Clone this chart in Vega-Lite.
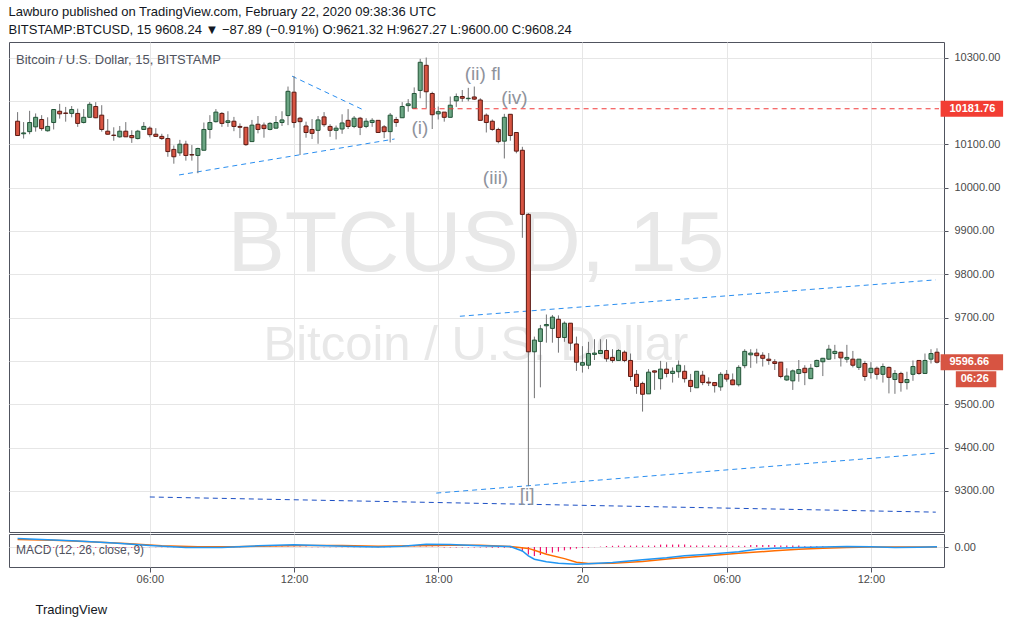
{
  "$schema": "https://vega.github.io/schema/vega-lite/v6.json",
  "background": "#ffffff",
  "padding": {"left": 8, "top": 5, "right": 0, "bottom": 0},
  "title": {
    "text": "Lawburo published on TradingView.com, February 22, 2020 09:38:36 UTC",
    "subtitle": "BITSTAMP:BTCUSD, 15 9608.24 ▼ −87.89 (−0.91%) O:9621.32 H:9627.27 L:9600.00 C:9608.24",
    "anchor": "start",
    "font": "Liberation Sans",
    "fontSize": 13,
    "fontWeight": "normal",
    "color": "#131722",
    "subtitleFont": "Liberation Sans",
    "subtitleFontSize": 13,
    "subtitleColor": "#131722",
    "subtitlePadding": 5,
    "offset": 5
  },
  "config": {
    "font": "Liberation Sans",
    "view": {"stroke": "#50535e", "strokeWidth": 1},
    "axis": {"labelFont": "Liberation Sans", "labelColor": "#4a4a4a", "labelFontSize": 11, "gridColor": "#e6e6e6", "tickColor": "#50535e", "domain": false}
  },
  "spacing": 0,
  "resolve": {"scale": {"y": "independent", "stroke": "independent", "fill": "independent", "color": "independent"}},
  "datasets": {
    "candles": [
      {"t":"2020-02-19T00:30:00Z","o":10153,"h":10174,"l":10119,"c":10120,"m":-4},
      {"t":"2020-02-19T00:45:00Z","o":10124,"h":10151,"l":10113,"c":10126,"m":-4},
      {"t":"2020-02-19T01:00:00Z","o":10129,"h":10177,"l":10123,"c":10150,"m":-4},
      {"t":"2020-02-19T01:15:00Z","o":10140,"h":10171,"l":10129,"c":10162,"m":-4},
      {"t":"2020-02-19T01:30:00Z","o":10157,"h":10167,"l":10131,"c":10136,"m":-4},
      {"t":"2020-02-19T01:45:00Z","o":10131,"h":10162,"l":10129,"c":10141,"m":-4},
      {"t":"2020-02-19T02:00:00Z","o":10150,"h":10181,"l":10134,"c":10180,"m":-4},
      {"t":"2020-02-19T02:15:00Z","o":10176,"h":10193,"l":10159,"c":10170,"m":-4},
      {"t":"2020-02-19T02:30:00Z","o":10172,"h":10186,"l":10152,"c":10171,"m":-4},
      {"t":"2020-02-19T02:45:00Z","o":10171,"h":10188,"l":10162,"c":10180,"m":-4},
      {"t":"2020-02-19T03:00:00Z","o":10171,"h":10182,"l":10140,"c":10148,"m":-4},
      {"t":"2020-02-19T03:15:00Z","o":10150,"h":10181,"l":10148,"c":10162,"m":-4},
      {"t":"2020-02-19T03:30:00Z","o":10162,"h":10197,"l":10162,"c":10192,"m":-4},
      {"t":"2020-02-19T03:45:00Z","o":10187,"h":10197,"l":10160,"c":10161,"m":-4},
      {"t":"2020-02-19T04:00:00Z","o":10167,"h":10190,"l":10129,"c":10134,"m":-4},
      {"t":"2020-02-19T04:15:00Z","o":10130,"h":10158,"l":10122,"c":10123,"m":-4},
      {"t":"2020-02-19T04:30:00Z","o":10121,"h":10139,"l":10108,"c":10120,"m":-4},
      {"t":"2020-02-19T04:45:00Z","o":10117,"h":10142,"l":10115,"c":10130,"m":-4},
      {"t":"2020-02-19T05:00:00Z","o":10130,"h":10151,"l":10117,"c":10117,"m":-4},
      {"t":"2020-02-19T05:15:00Z","o":10120,"h":10132,"l":10103,"c":10115,"m":-4},
      {"t":"2020-02-19T05:30:00Z","o":10113,"h":10133,"l":10111,"c":10130,"m":-4},
      {"t":"2020-02-19T05:45:00Z","o":10134,"h":10151,"l":10133,"c":10141,"m":-1},
      {"t":"2020-02-19T06:00:00Z","o":10137,"h":10141,"l":10116,"c":10122,"m":-1},
      {"t":"2020-02-19T06:15:00Z","o":10123,"h":10137,"l":10117,"c":10118,"m":-1},
      {"t":"2020-02-19T06:30:00Z","o":10118,"h":10124,"l":10110,"c":10113,"m":-1},
      {"t":"2020-02-19T06:45:00Z","o":10113,"h":10123,"l":10071,"c":10083,"m":-1},
      {"t":"2020-02-19T07:00:00Z","o":10088,"h":10097,"l":10055,"c":10071,"m":-1},
      {"t":"2020-02-19T07:15:00Z","o":10080,"h":10110,"l":10073,"c":10100,"m":-1},
      {"t":"2020-02-19T07:30:00Z","o":10100,"h":10108,"l":10062,"c":10074,"m":-1},
      {"t":"2020-02-19T07:45:00Z","o":10076,"h":10098,"l":10062,"c":10075,"m":-1},
      {"t":"2020-02-19T08:00:00Z","o":10074,"h":10092,"l":10033,"c":10090,"m":-1},
      {"t":"2020-02-19T08:15:00Z","o":10086,"h":10150,"l":10086,"c":10134,"m":-1},
      {"t":"2020-02-19T08:30:00Z","o":10134,"h":10167,"l":10113,"c":10150,"m":-1},
      {"t":"2020-02-19T08:45:00Z","o":10152,"h":10181,"l":10150,"c":10174,"m":-1},
      {"t":"2020-02-19T09:00:00Z","o":10171,"h":10174,"l":10140,"c":10148,"m":-1},
      {"t":"2020-02-19T09:15:00Z","o":10150,"h":10176,"l":10140,"c":10154,"m":-1},
      {"t":"2020-02-19T09:30:00Z","o":10153,"h":10163,"l":10130,"c":10141,"m":-1},
      {"t":"2020-02-19T09:45:00Z","o":10141,"h":10148,"l":10114,"c":10139,"m":-1},
      {"t":"2020-02-19T10:00:00Z","o":10139,"h":10139,"l":10096,"c":10099,"m":2},
      {"t":"2020-02-19T10:15:00Z","o":10106,"h":10156,"l":10106,"c":10144,"m":2},
      {"t":"2020-02-19T10:30:00Z","o":10146,"h":10165,"l":10125,"c":10134,"m":2},
      {"t":"2020-02-19T10:45:00Z","o":10144,"h":10150,"l":10115,"c":10136,"m":2},
      {"t":"2020-02-19T11:00:00Z","o":10134,"h":10151,"l":10132,"c":10148,"m":2},
      {"t":"2020-02-19T11:15:00Z","o":10137,"h":10165,"l":10136,"c":10150,"m":2},
      {"t":"2020-02-19T11:30:00Z","o":10150,"h":10176,"l":10142,"c":10156,"m":2},
      {"t":"2020-02-19T11:45:00Z","o":10166,"h":10233,"l":10144,"c":10222,"m":2},
      {"t":"2020-02-19T12:00:00Z","o":10220,"h":10257,"l":10138,"c":10150,"m":2},
      {"t":"2020-02-19T12:15:00Z","o":10160,"h":10163,"l":10075,"c":10152,"m":2},
      {"t":"2020-02-19T12:30:00Z","o":10142,"h":10152,"l":10115,"c":10127,"m":2},
      {"t":"2020-02-19T12:45:00Z","o":10134,"h":10158,"l":10112,"c":10125,"m":-1},
      {"t":"2020-02-19T13:00:00Z","o":10132,"h":10165,"l":10101,"c":10156,"m":-1},
      {"t":"2020-02-19T13:15:00Z","o":10163,"h":10174,"l":10140,"c":10145,"m":-1},
      {"t":"2020-02-19T13:30:00Z","o":10141,"h":10146,"l":10117,"c":10132,"m":-1},
      {"t":"2020-02-19T13:45:00Z","o":10132,"h":10143,"l":10111,"c":10137,"m":-1},
      {"t":"2020-02-19T14:00:00Z","o":10135,"h":10169,"l":10124,"c":10149,"m":-1},
      {"t":"2020-02-19T14:15:00Z","o":10155,"h":10181,"l":10135,"c":10141,"m":-1},
      {"t":"2020-02-19T14:30:00Z","o":10141,"h":10165,"l":10137,"c":10160,"m":-1},
      {"t":"2020-02-19T14:45:00Z","o":10160,"h":10163,"l":10121,"c":10139,"m":-1},
      {"t":"2020-02-19T15:00:00Z","o":10141,"h":10160,"l":10137,"c":10153,"m":-1},
      {"t":"2020-02-19T15:15:00Z","o":10150,"h":10160,"l":10140,"c":10155,"m":-1},
      {"t":"2020-02-19T15:30:00Z","o":10155,"h":10155,"l":10127,"c":10127,"m":-1},
      {"t":"2020-02-19T15:45:00Z","o":10140,"h":10144,"l":10114,"c":10129,"m":-1},
      {"t":"2020-02-19T16:00:00Z","o":10129,"h":10172,"l":10104,"c":10167,"m":-1},
      {"t":"2020-02-19T16:15:00Z","o":10157,"h":10163,"l":10140,"c":10150,"m":3},
      {"t":"2020-02-19T16:30:00Z","o":10161,"h":10197,"l":10161,"c":10187,"m":3},
      {"t":"2020-02-19T16:45:00Z","o":10189,"h":10204,"l":10175,"c":10193,"m":3},
      {"t":"2020-02-19T17:00:00Z","o":10183,"h":10231,"l":10183,"c":10217,"m":3},
      {"t":"2020-02-19T17:15:00Z","o":10224,"h":10297,"l":10206,"c":10289,"m":3},
      {"t":"2020-02-19T17:30:00Z","o":10282,"h":10300,"l":10183,"c":10221,"m":3},
      {"t":"2020-02-19T17:45:00Z","o":10217,"h":10221,"l":10135,"c":10168,"m":3},
      {"t":"2020-02-19T18:00:00Z","o":10170,"h":10187,"l":10157,"c":10175,"m":3},
      {"t":"2020-02-19T18:15:00Z","o":10174,"h":10174,"l":10152,"c":10162,"m":-2},
      {"t":"2020-02-19T18:30:00Z","o":10162,"h":10210,"l":10162,"c":10190,"m":-2},
      {"t":"2020-02-19T18:45:00Z","o":10200,"h":10217,"l":10186,"c":10210,"m":-2},
      {"t":"2020-02-19T19:00:00Z","o":10210,"h":10225,"l":10198,"c":10206,"m":-2},
      {"t":"2020-02-19T19:15:00Z","o":10205,"h":10230,"l":10199,"c":10206,"m":-2},
      {"t":"2020-02-19T19:30:00Z","o":10209,"h":10233,"l":10202,"c":10204,"m":-2},
      {"t":"2020-02-19T19:45:00Z","o":10202,"h":10206,"l":10155,"c":10155,"m":-2},
      {"t":"2020-02-19T20:00:00Z","o":10167,"h":10171,"l":10127,"c":10150,"m":-2},
      {"t":"2020-02-19T20:15:00Z","o":10153,"h":10157,"l":10131,"c":10134,"m":-4},
      {"t":"2020-02-19T20:30:00Z","o":10134,"h":10138,"l":10102,"c":10106,"m":-4},
      {"t":"2020-02-19T20:45:00Z","o":10107,"h":10170,"l":10067,"c":10162,"m":-4},
      {"t":"2020-02-19T21:00:00Z","o":10169,"h":10169,"l":10108,"c":10120,"m":-4},
      {"t":"2020-02-19T21:15:00Z","o":10127,"h":10127,"l":10079,"c":10084,"m":-4},
      {"t":"2020-02-19T21:30:00Z","o":10086,"h":10094,"l":9884,"c":9938,"m":-23},
      {"t":"2020-02-19T21:45:00Z","o":9938,"h":9941,"l":9311,"c":9621,"m":-37},
      {"t":"2020-02-19T22:00:00Z","o":9621,"h":9656,"l":9514,"c":9648,"m":-45},
      {"t":"2020-02-19T22:15:00Z","o":9645,"h":9683,"l":9539,"c":9674,"m":-40},
      {"t":"2020-02-19T22:30:00Z","o":9681,"h":9707,"l":9642,"c":9684,"m":-32},
      {"t":"2020-02-19T22:45:00Z","o":9675,"h":9706,"l":9642,"c":9701,"m":-28},
      {"t":"2020-02-19T23:00:00Z","o":9696,"h":9705,"l":9619,"c":9654,"m":-23},
      {"t":"2020-02-19T23:15:00Z","o":9654,"h":9691,"l":9644,"c":9687,"m":-17},
      {"t":"2020-02-19T23:30:00Z","o":9687,"h":9687,"l":9624,"c":9641,"m":-12},
      {"t":"2020-02-19T23:45:00Z","o":9639,"h":9656,"l":9577,"c":9597,"m":-8},
      {"t":"2020-02-20T00:00:00Z","o":9590,"h":9634,"l":9573,"c":9596,"m":-5},
      {"t":"2020-02-20T00:15:00Z","o":9590,"h":9644,"l":9581,"c":9617,"m":-3},
      {"t":"2020-02-20T00:30:00Z","o":9615,"h":9650,"l":9602,"c":9618,"m":-1},
      {"t":"2020-02-20T00:45:00Z","o":9617,"h":9650,"l":9617,"c":9624,"m":2},
      {"t":"2020-02-20T01:00:00Z","o":9624,"h":9650,"l":9598,"c":9605,"m":5},
      {"t":"2020-02-20T01:15:00Z","o":9608,"h":9627,"l":9596,"c":9601,"m":6},
      {"t":"2020-02-20T01:30:00Z","o":9601,"h":9627,"l":9601,"c":9624,"m":7},
      {"t":"2020-02-20T01:45:00Z","o":9620,"h":9624,"l":9597,"c":9601,"m":7},
      {"t":"2020-02-20T02:00:00Z","o":9601,"h":9617,"l":9554,"c":9564,"m":7},
      {"t":"2020-02-20T02:15:00Z","o":9569,"h":9579,"l":9524,"c":9541,"m":7},
      {"t":"2020-02-20T02:30:00Z","o":9548,"h":9552,"l":9483,"c":9523,"m":7},
      {"t":"2020-02-20T02:45:00Z","o":9524,"h":9581,"l":9524,"c":9574,"m":7},
      {"t":"2020-02-20T03:00:00Z","o":9577,"h":9578,"l":9533,"c":9574,"m":7},
      {"t":"2020-02-20T03:15:00Z","o":9559,"h":9600,"l":9534,"c":9581,"m":12},
      {"t":"2020-02-20T03:30:00Z","o":9581,"h":9597,"l":9562,"c":9571,"m":12},
      {"t":"2020-02-20T03:45:00Z","o":9571,"h":9585,"l":9550,"c":9576,"m":12},
      {"t":"2020-02-20T04:00:00Z","o":9575,"h":9601,"l":9561,"c":9590,"m":12},
      {"t":"2020-02-20T04:15:00Z","o":9576,"h":9590,"l":9550,"c":9559,"m":12},
      {"t":"2020-02-20T04:30:00Z","o":9555,"h":9570,"l":9528,"c":9541,"m":7},
      {"t":"2020-02-20T04:45:00Z","o":9538,"h":9576,"l":9538,"c":9576,"m":7},
      {"t":"2020-02-20T05:00:00Z","o":9567,"h":9577,"l":9544,"c":9550,"m":7},
      {"t":"2020-02-20T05:15:00Z","o":9551,"h":9562,"l":9542,"c":9549,"m":7},
      {"t":"2020-02-20T05:30:00Z","o":9550,"h":9550,"l":9527,"c":9543,"m":7},
      {"t":"2020-02-20T05:45:00Z","o":9540,"h":9574,"l":9531,"c":9569,"m":7},
      {"t":"2020-02-20T06:00:00Z","o":9569,"h":9579,"l":9552,"c":9558,"m":7},
      {"t":"2020-02-20T06:15:00Z","o":9556,"h":9571,"l":9544,"c":9545,"m":6},
      {"t":"2020-02-20T06:30:00Z","o":9545,"h":9590,"l":9541,"c":9585,"m":6},
      {"t":"2020-02-20T06:45:00Z","o":9589,"h":9627,"l":9583,"c":9622,"m":6},
      {"t":"2020-02-20T07:00:00Z","o":9614,"h":9627,"l":9584,"c":9618,"m":10},
      {"t":"2020-02-20T07:15:00Z","o":9618,"h":9628,"l":9594,"c":9612,"m":10},
      {"t":"2020-02-20T07:30:00Z","o":9613,"h":9620,"l":9587,"c":9606,"m":10},
      {"t":"2020-02-20T07:45:00Z","o":9604,"h":9618,"l":9591,"c":9601,"m":10},
      {"t":"2020-02-20T08:00:00Z","o":9598,"h":9604,"l":9579,"c":9594,"m":10},
      {"t":"2020-02-20T08:15:00Z","o":9597,"h":9597,"l":9560,"c":9564,"m":7},
      {"t":"2020-02-20T08:30:00Z","o":9556,"h":9583,"l":9554,"c":9565,"m":7},
      {"t":"2020-02-20T08:45:00Z","o":9554,"h":9580,"l":9533,"c":9577,"m":7},
      {"t":"2020-02-20T09:00:00Z","o":9571,"h":9602,"l":9552,"c":9580,"m":7},
      {"t":"2020-02-20T09:15:00Z","o":9583,"h":9590,"l":9544,"c":9573,"m":4},
      {"t":"2020-02-20T09:30:00Z","o":9559,"h":9593,"l":9559,"c":9583,"m":4},
      {"t":"2020-02-20T09:45:00Z","o":9587,"h":9603,"l":9585,"c":9601,"m":4},
      {"t":"2020-02-20T10:00:00Z","o":9598,"h":9607,"l":9565,"c":9606,"m":4},
      {"t":"2020-02-20T10:15:00Z","o":9604,"h":9637,"l":9602,"c":9627,"m":1},
      {"t":"2020-02-20T10:30:00Z","o":9617,"h":9637,"l":9604,"c":9622,"m":1},
      {"t":"2020-02-20T10:45:00Z","o":9620,"h":9620,"l":9587,"c":9607,"m":1},
      {"t":"2020-02-20T11:00:00Z","o":9604,"h":9637,"l":9596,"c":9608,"m":1},
      {"t":"2020-02-20T11:15:00Z","o":9604,"h":9623,"l":9585,"c":9590,"m":1},
      {"t":"2020-02-20T11:30:00Z","o":9585,"h":9604,"l":9579,"c":9604,"m":1},
      {"t":"2020-02-20T11:45:00Z","o":9594,"h":9600,"l":9554,"c":9564,"m":0},
      {"t":"2020-02-20T12:00:00Z","o":9573,"h":9597,"l":9559,"c":9583,"m":0},
      {"t":"2020-02-20T12:15:00Z","o":9583,"h":9587,"l":9557,"c":9569,"m":0},
      {"t":"2020-02-20T12:30:00Z","o":9569,"h":9594,"l":9550,"c":9587,"m":0},
      {"t":"2020-02-20T12:45:00Z","o":9585,"h":9587,"l":9525,"c":9562,"m":0},
      {"t":"2020-02-20T13:00:00Z","o":9557,"h":9579,"l":9524,"c":9571,"m":0},
      {"t":"2020-02-20T13:15:00Z","o":9571,"h":9575,"l":9529,"c":9550,"m":0},
      {"t":"2020-02-20T13:30:00Z","o":9550,"h":9575,"l":9534,"c":9557,"m":0},
      {"t":"2020-02-20T13:45:00Z","o":9569,"h":9601,"l":9554,"c":9587,"m":0},
      {"t":"2020-02-20T14:00:00Z","o":9601,"h":9601,"l":9568,"c":9571,"m":0},
      {"t":"2020-02-20T14:15:00Z","o":9571,"h":9617,"l":9571,"c":9601,"m":0},
      {"t":"2020-02-20T14:30:00Z","o":9604,"h":9627,"l":9594,"c":9617,"m":0},
      {"t":"2020-02-20T14:45:00Z","o":9620,"h":9629,"l":9594,"c":9597,"m":0}
    ],
    "macd": [
      {"s":"MACD","t":"2020-02-19T00:30:00Z","v":42},
      {"s":"MACD","t":"2020-02-19T01:30:00Z","v":38},
      {"s":"MACD","t":"2020-02-19T03:00:00Z","v":30},
      {"s":"MACD","t":"2020-02-19T04:30:00Z","v":20},
      {"s":"MACD","t":"2020-02-19T06:00:00Z","v":8},
      {"s":"MACD","t":"2020-02-19T07:30:00Z","v":-2},
      {"s":"MACD","t":"2020-02-19T09:00:00Z","v":-2},
      {"s":"MACD","t":"2020-02-19T10:30:00Z","v":6},
      {"s":"MACD","t":"2020-02-19T12:00:00Z","v":11},
      {"s":"MACD","t":"2020-02-19T13:00:00Z","v":8},
      {"s":"MACD","t":"2020-02-19T14:30:00Z","v":3},
      {"s":"MACD","t":"2020-02-19T15:30:00Z","v":0},
      {"s":"MACD","t":"2020-02-19T16:30:00Z","v":4},
      {"s":"MACD","t":"2020-02-19T17:30:00Z","v":14},
      {"s":"MACD","t":"2020-02-19T18:30:00Z","v":12},
      {"s":"MACD","t":"2020-02-19T19:45:00Z","v":6},
      {"s":"MACD","t":"2020-02-19T21:00:00Z","v":2},
      {"s":"MACD","t":"2020-02-19T21:30:00Z","v":-20},
      {"s":"MACD","t":"2020-02-19T21:45:00Z","v":-44},
      {"s":"MACD","t":"2020-02-19T22:00:00Z","v":-61},
      {"s":"MACD","t":"2020-02-19T22:30:00Z","v":-74},
      {"s":"MACD","t":"2020-02-19T23:00:00Z","v":-81},
      {"s":"MACD","t":"2020-02-19T23:45:00Z","v":-86},
      {"s":"MACD","t":"2020-02-20T00:15:00Z","v":-84},
      {"s":"MACD","t":"2020-02-20T01:15:00Z","v":-78},
      {"s":"MACD","t":"2020-02-20T02:30:00Z","v":-64},
      {"s":"MACD","t":"2020-02-20T03:30:00Z","v":-54},
      {"s":"MACD","t":"2020-02-20T04:15:00Z","v":-44},
      {"s":"MACD","t":"2020-02-20T05:15:00Z","v":-36},
      {"s":"MACD","t":"2020-02-20T06:30:00Z","v":-24},
      {"s":"MACD","t":"2020-02-20T07:15:00Z","v":-11},
      {"s":"MACD","t":"2020-02-20T08:00:00Z","v":-6},
      {"s":"MACD","t":"2020-02-20T09:00:00Z","v":-2},
      {"s":"MACD","t":"2020-02-20T10:00:00Z","v":0},
      {"s":"MACD","t":"2020-02-20T11:00:00Z","v":2},
      {"s":"MACD","t":"2020-02-20T12:00:00Z","v":1},
      {"s":"MACD","t":"2020-02-20T13:00:00Z","v":-3},
      {"s":"MACD","t":"2020-02-20T14:00:00Z","v":-1},
      {"s":"MACD","t":"2020-02-20T14:45:00Z","v":1},
      {"s":"Signal","t":"2020-02-19T00:30:00Z","v":38},
      {"s":"Signal","t":"2020-02-19T02:00:00Z","v":34},
      {"s":"Signal","t":"2020-02-19T03:30:00Z","v":26},
      {"s":"Signal","t":"2020-02-19T05:00:00Z","v":17},
      {"s":"Signal","t":"2020-02-19T06:30:00Z","v":6},
      {"s":"Signal","t":"2020-02-19T08:00:00Z","v":1},
      {"s":"Signal","t":"2020-02-19T09:30:00Z","v":1},
      {"s":"Signal","t":"2020-02-19T11:00:00Z","v":5},
      {"s":"Signal","t":"2020-02-19T12:30:00Z","v":8},
      {"s":"Signal","t":"2020-02-19T14:00:00Z","v":7},
      {"s":"Signal","t":"2020-02-19T15:30:00Z","v":4},
      {"s":"Signal","t":"2020-02-19T17:00:00Z","v":6},
      {"s":"Signal","t":"2020-02-19T18:30:00Z","v":9},
      {"s":"Signal","t":"2020-02-19T19:45:00Z","v":9},
      {"s":"Signal","t":"2020-02-19T21:00:00Z","v":3},
      {"s":"Signal","t":"2020-02-19T21:45:00Z","v":-7},
      {"s":"Signal","t":"2020-02-19T22:00:00Z","v":-16},
      {"s":"Signal","t":"2020-02-19T22:30:00Z","v":-36},
      {"s":"Signal","t":"2020-02-19T23:15:00Z","v":-58},
      {"s":"Signal","t":"2020-02-19T23:45:00Z","v":-76},
      {"s":"Signal","t":"2020-02-20T00:15:00Z","v":-83},
      {"s":"Signal","t":"2020-02-20T01:15:00Z","v":-81},
      {"s":"Signal","t":"2020-02-20T02:30:00Z","v":-73},
      {"s":"Signal","t":"2020-02-20T03:45:00Z","v":-58},
      {"s":"Signal","t":"2020-02-20T05:15:00Z","v":-44},
      {"s":"Signal","t":"2020-02-20T06:30:00Z","v":-31},
      {"s":"Signal","t":"2020-02-20T08:00:00Z","v":-19},
      {"s":"Signal","t":"2020-02-20T09:00:00Z","v":-11},
      {"s":"Signal","t":"2020-02-20T10:00:00Z","v":-6},
      {"s":"Signal","t":"2020-02-20T11:00:00Z","v":-2},
      {"s":"Signal","t":"2020-02-20T12:00:00Z","v":0},
      {"s":"Signal","t":"2020-02-20T13:00:00Z","v":0},
      {"s":"Signal","t":"2020-02-20T14:45:00Z","v":0}
    ],
    "lines": [
      {"id":"tri1","t":"2020-02-19T11:55:00Z","p":10257},
      {"id":"tri1","t":"2020-02-19T14:58:00Z","p":10177},
      {"id":"tri2","t":"2020-02-19T07:13:00Z","p":10029},
      {"id":"tri2","t":"2020-02-19T16:11:00Z","p":10112},
      {"id":"alert","t":"2020-02-19T16:56:00Z","p":10181.76},
      {"id":"alert","t":"2020-02-20T14:50:00Z","p":10181.76},
      {"id":"chUp","t":"2020-02-19T18:54:00Z","p":9703},
      {"id":"chUp","t":"2020-02-20T14:42:00Z","p":9787},
      {"id":"chLo","t":"2020-02-19T17:55:00Z","p":9295},
      {"id":"chLo","t":"2020-02-20T14:42:00Z","p":9387},
      {"id":"base","t":"2020-02-19T06:00:00Z","p":9286},
      {"id":"base","t":"2020-02-20T14:42:00Z","p":9251}
    ],
    "notes": [
      {"k":"wm1","txt":"BTCUSD, 15","t":"2020-02-19T19:34:00Z","p":9868},
      {"k":"wm2","txt":"Bitcoin / U.S. Dollar","t":"2020-02-19T19:34:00Z","p":9637},
      {"k":"wave","txt":"(ii) fl","t":"2020-02-19T19:51:00Z","p":10262},
      {"k":"wave","txt":"(iv)","t":"2020-02-19T21:10:00Z","p":10207},
      {"k":"wave","txt":"(i)","t":"2020-02-19T17:14:00Z","p":10138},
      {"k":"wave","txt":"(iii)","t":"2020-02-19T20:23:00Z","p":10023},
      {"k":"wave","txt":"[i]","t":"2020-02-19T21:42:00Z","p":9290}
    ],
    "tags": [
      {"k":"alert","txt":"10181.76","p":10181.76},
      {"k":"last","txt":"9596.66","p":9596.66},
      {"k":"timer","txt":"06:26","p":9596.66}
    ]
  },
  "vconcat": [
    {
      "width": 935,
      "height": 490,
      "title": {"text": "Bitcoin / U.S. Dollar, 15, BITSTAMP", "anchor": "start", "offset": -35, "dx": 7, "baseline": "alphabetic", "font": "Liberation Sans", "fontSize": 13, "fontWeight": "normal", "color": "#50535e"},
      "layer": [
        {
          "data": {"name": "notes"},
          "transform": [{"filter": "datum.k == 'wm1'"}],
          "mark": {"type": "text", "font": "Liberation Sans", "fontSize": 86, "fill": "#e8e8e8", "align": "center", "baseline": "middle"},
          "encoding": {
            "x": {"field": "t", "type": "temporal", "title": null,
              "scale": {"type": "utc", "domain": [1582071660000, 1582210200000]},
              "axis": {"values": [1582092000000, 1582113600000, 1582135200000, 1582156800000, 1582178400000, 1582200000000], "labels": false, "ticks": false, "domain": false, "grid": true, "title": null}},
            "y": {"field": "p", "type": "quantitative", "scale": {"domain": [9205.2, 10335.8], "zero": false, "nice": false},
              "axis": {"orient": "right", "values": [9300,9400,9500,9600,9700,9800,9900,10000,10100,10200,10300], "format": ".2f", "labelExpr": "datum.value == 10200 || datum.value == 9600 ? '' : datum.label", "grid": true, "tickSize": 4, "labelPadding": 6, "title": null}},
            "text": {"field": "txt"}
          }
        },
        {
          "data": {"name": "notes"},
          "transform": [{"filter": "datum.k == 'wm2'"}],
          "mark": {"type": "text", "font": "Liberation Sans", "fontSize": 49, "fill": "#e8e8e8", "align": "center", "baseline": "middle"},
          "encoding": {
            "x": {"field": "t", "type": "temporal", "title": null, "scale": {"type": "utc", "domain": [1582071660000, 1582210200000]}},
            "y": {"field": "p", "type": "quantitative", "scale": {"domain": [9205.2, 10335.8], "zero": false, "nice": false}, "title": null},
            "text": {"field": "txt"}
          }
        },
        {
          "data": {"name": "lines"},
          "transform": [{"filter": "datum.id == 'tri1' || datum.id == 'tri2' || datum.id == 'chUp' || datum.id == 'chLo'"}],
          "mark": {"type": "line", "strokeWidth": 1, "strokeDash": [5, 4], "stroke": "#2a8ef0"},
          "encoding": {
            "x": {"field": "t", "type": "temporal", "title": null, "scale": {"type": "utc", "domain": [1582071660000, 1582210200000]}},
            "y": {"field": "p", "type": "quantitative", "scale": {"domain": [9205.2, 10335.8], "zero": false, "nice": false}, "title": null},
            "detail": {"field": "id"}
          }
        },
        {
          "data": {"name": "lines"},
          "transform": [{"filter": "datum.id == 'base'"}],
          "mark": {"type": "line", "strokeWidth": 1, "strokeDash": [5, 4], "stroke": "#1c4fc4"},
          "encoding": {
            "x": {"field": "t", "type": "temporal", "title": null, "scale": {"type": "utc", "domain": [1582071660000, 1582210200000]}},
            "y": {"field": "p", "type": "quantitative", "scale": {"domain": [9205.2, 10335.8], "zero": false, "nice": false}, "title": null}
          }
        },
        {
          "data": {"name": "candles"},
          "mark": {"type": "rule", "color": "#737375", "strokeWidth": 1},
          "encoding": {
            "x": {"field": "t", "type": "temporal", "title": null, "scale": {"type": "utc", "domain": [1582071660000, 1582210200000]}},
            "y": {"field": "l", "type": "quantitative", "scale": {"domain": [9205.2, 10335.8], "zero": false, "nice": false}, "title": null},
            "y2": {"field": "h"}
          }
        },
        {
          "data": {"name": "candles"},
          "mark": {"type": "bar", "width": 4, "strokeWidth": 1},
          "encoding": {
            "x": {"field": "t", "type": "temporal", "title": null, "scale": {"type": "utc", "domain": [1582071660000, 1582210200000]}},
            "y": {"field": "o", "type": "quantitative", "scale": {"domain": [9205.2, 10335.8], "zero": false, "nice": false}, "title": null},
            "y2": {"field": "c"},
            "fill": {"condition": {"test": "datum.c >= datum.o", "value": "#6ba583"}, "value": "#d75442"},
            "stroke": {"condition": {"test": "datum.c >= datum.o", "value": "#225437"}, "value": "#5b1a13"}
          }
        },
        {
          "data": {"name": "lines"},
          "transform": [{"filter": "datum.id == 'alert'"}],
          "mark": {"type": "line", "strokeWidth": 1, "strokeDash": [5, 4], "stroke": "#f23a3a"},
          "encoding": {
            "x": {"field": "t", "type": "temporal", "title": null, "scale": {"type": "utc", "domain": [1582071660000, 1582210200000]}},
            "y": {"field": "p", "type": "quantitative", "scale": {"domain": [9205.2, 10335.8], "zero": false, "nice": false}, "title": null}
          }
        },
        {
          "data": {"name": "notes"},
          "transform": [{"filter": "datum.k == 'wave'"}],
          "mark": {"type": "text", "font": "Liberation Sans", "fontSize": 19, "fill": "#8f939c", "align": "center", "baseline": "middle"},
          "encoding": {
            "x": {"field": "t", "type": "temporal", "title": null, "scale": {"type": "utc", "domain": [1582071660000, 1582210200000]}},
            "y": {"field": "p", "type": "quantitative", "scale": {"domain": [9205.2, 10335.8], "zero": false, "nice": false}, "title": null},
            "text": {"field": "txt"}
          }
        },
        {
          "data": {"name": "tags"},
          "transform": [{"filter": "datum.k != 'timer'"}],
          "mark": {"type": "rule", "strokeWidth": 16, "strokeCap": "butt", "clip": false},
          "encoding": {
            "x": {"datum": 1582210440000, "type": "temporal", "title": null, "scale": {"type": "utc", "domain": [1582071660000, 1582210200000]}},
            "x2": {"datum": 1582219800000},
            "y": {"field": "p", "type": "quantitative", "scale": {"domain": [9205.2, 10335.8], "zero": false, "nice": false}, "title": null},
            "color": {"condition": {"test": "datum.k == 'alert'", "value": "#f23d33"}, "value": "#d75442"}
          }
        },
        {
          "data": {"name": "tags"},
          "transform": [{"filter": "datum.k == 'timer'"}],
          "mark": {"type": "rule", "strokeWidth": 16, "strokeCap": "butt", "yOffset": 17, "color": "#d75442", "clip": false},
          "encoding": {
            "x": {"datum": 1582212720000, "type": "temporal", "title": null, "scale": {"type": "utc", "domain": [1582071660000, 1582210200000]}},
            "x2": {"datum": 1582218780000},
            "y": {"field": "p", "type": "quantitative", "scale": {"domain": [9205.2, 10335.8], "zero": false, "nice": false}, "title": null}
          }
        },
        {
          "data": {"name": "tags"},
          "transform": [{"filter": "datum.k != 'timer'"}],
          "mark": {"type": "text", "font": "Liberation Sans", "fontSize": 11, "fontWeight": "bold", "fill": "#ffffff", "align": "left", "baseline": "middle", "clip": false},
          "encoding": {
            "x": {"datum": 1582211760000, "type": "temporal", "title": null, "scale": {"type": "utc", "domain": [1582071660000, 1582210200000]}},
            "y": {"field": "p", "type": "quantitative", "scale": {"domain": [9205.2, 10335.8], "zero": false, "nice": false}, "title": null},
            "text": {"field": "txt"}
          }
        },
        {
          "data": {"name": "tags"},
          "transform": [{"filter": "datum.k == 'timer'"}],
          "mark": {"type": "text", "font": "Liberation Sans", "fontSize": 11, "fontWeight": "bold", "fill": "#ffffff", "align": "left", "baseline": "middle", "dy": 17, "clip": false},
          "encoding": {
            "x": {"datum": 1582213440000, "type": "temporal", "title": null, "scale": {"type": "utc", "domain": [1582071660000, 1582210200000]}},
            "y": {"field": "p", "type": "quantitative", "scale": {"domain": [9205.2, 10335.8], "zero": false, "nice": false}, "title": null},
            "text": {"field": "txt"}
          }
        }
      ]
    },
    {
      "width": 935,
      "height": 33,
      "title": {"text": "MACD (12, 26, close, 9)", "anchor": "start", "offset": -32, "dx": 7, "baseline": "alphabetic", "font": "Liberation Sans", "fontSize": 12, "fontWeight": "normal", "color": "#50535e"},
      "layer": [
        {
          "data": {"name": "candles"},
          "mark": {"type": "bar", "width": 1.2, "fill": "#f0136f"},
          "encoding": {
            "x": {
              "field": "t", "type": "temporal",
              "scale": {"type": "utc", "domain": [1582071660000, 1582210200000]},
              "axis": {
                "values": [1582092000000, 1582113600000, 1582135200000, 1582156800000, 1582178400000, 1582200000000],
                "labelExpr": "utchours(datum.value) == 0 ? utcFormat(datum.value, '%d') : utcFormat(datum.value, '%H:%M')",
                "grid": true, "ticks": true, "tickSize": 5, "labelPadding": 1, "domain": false,
                "title": "TradingView", "titleAnchor": "start", "titleAlign": "left", "titleX": 26, "titleFont": "Liberation Sans", "titleFontSize": 13, "titleFontWeight": "normal", "titleColor": "#131722", "titlePadding": 19
              }
            },
            "y": {"field": "m", "type": "quantitative", "scale": {"domain": [-100, 65], "zero": false, "nice": false},
              "axis": {"orient": "right", "values": [0], "format": ".2f", "grid": true, "tickSize": 4, "labelPadding": 6, "title": null}},
            "y2": {"datum": 0}
          }
        },
        {
          "data": {"name": "macd"},
          "transform": [{"filter": "datum.s == 'Signal'"}],
          "mark": {"type": "line", "strokeWidth": 1.5, "stroke": "#ff6d00"},
          "encoding": {
            "x": {"field": "t", "type": "temporal", "scale": {"type": "utc", "domain": [1582071660000, 1582210200000]}},
            "y": {"field": "v", "type": "quantitative", "scale": {"domain": [-100, 65], "zero": false, "nice": false}, "title": null}
          }
        },
        {
          "data": {"name": "macd"},
          "transform": [{"filter": "datum.s == 'MACD'"}],
          "mark": {"type": "line", "strokeWidth": 1.5, "stroke": "#2196f3"},
          "encoding": {
            "x": {"field": "t", "type": "temporal", "scale": {"type": "utc", "domain": [1582071660000, 1582210200000]}},
            "y": {"field": "v", "type": "quantitative", "scale": {"domain": [-100, 65], "zero": false, "nice": false}, "title": null}
          }
        }
      ]
    }
  ]
}
